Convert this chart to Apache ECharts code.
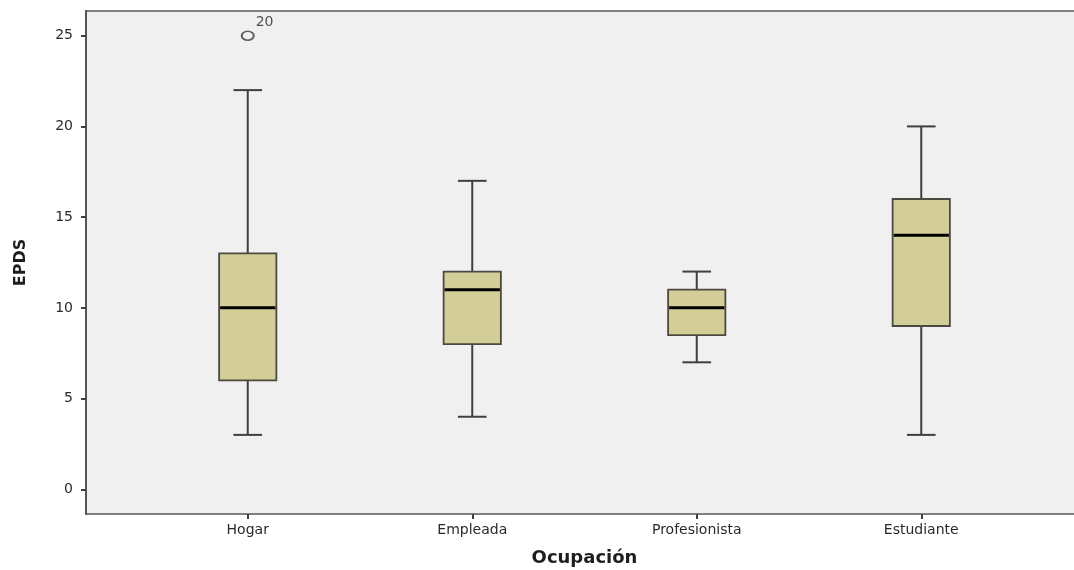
<!DOCTYPE html>
<html>
<head>
<meta charset="utf-8">
<style>
  html, body { margin: 0; padding: 0; background: #ffffff; }
  #chart { width: 1074px; height: 570px; }
</style>
<script src="https://cdn.jsdelivr.net/npm/echarts@6/dist/echarts.min.js"></script>
</head>
<body>
<div id="chart"></div>
<script>
// EPDS score by occupation: five-number summaries per group
const categories = ['Hogar', 'Empleada', 'Profesionista', 'Estudiante'];
const whiskerLow = [3, 4, 7, 3];
const q1 = [6, 8, 8.5, 9];
const median = [10, 11, 10, 14];
const q3 = [13, 12, 11, 16];
const whiskerHigh = [22, 17, 12, 20];
// outliers: [category, value, case number]
const outliers = [['Hogar', 25, '20']];
const yTicks = [0, 5, 10, 15, 20, 25];

const FONT = 'DejaVu Sans';
const INK = '#404040';

const boxData = categories.map((c, i) =>
  [i, whiskerLow[i], q1[i], median[i], q3[i], whiskerHigh[i]]);

function renderBox(params, api) {
  const idx = api.value(0);
  const cx = api.coord([idx, 0])[0];
  const band = api.size([1, 0])[0];
  const boxW = band * 0.255;
  const capW = boxW * 0.5;
  const y = v => api.coord([idx, v])[1];
  const yLow = y(api.value(1)), yQ1 = y(api.value(2)), yMed = y(api.value(3));
  const yQ3 = y(api.value(4)), yHigh = y(api.value(5));
  const wStyle = { stroke: '#3f3f3f', lineWidth: 2 };
  return {
    type: 'group',
    children: [
      { type: 'line', shape: { x1: cx, y1: yQ1, x2: cx, y2: yLow }, style: wStyle },
      { type: 'line', shape: { x1: cx, y1: yQ3, x2: cx, y2: yHigh }, style: wStyle },
      { type: 'line', shape: { x1: cx - capW / 2, y1: yLow, x2: cx + capW / 2, y2: yLow }, style: wStyle },
      { type: 'line', shape: { x1: cx - capW / 2, y1: yHigh, x2: cx + capW / 2, y2: yHigh }, style: wStyle },
      { type: 'rect', shape: { x: cx - boxW / 2, y: yQ3, width: boxW, height: yQ1 - yQ3 },
        style: { fill: '#d3ce97', stroke: '#4a4a40', lineWidth: 1.8 } },
      { type: 'line', shape: { x1: cx - boxW / 2 + 1, y1: yMed, x2: cx + boxW / 2 - 1, y2: yMed },
        style: { stroke: '#000000', lineWidth: 3 } }
    ]
  };
}

const Y_MIN = -1.36, Y_MAX = 26.36;

const chart = echarts.init(document.getElementById('chart'));
chart.setOption({
  animation: false,
  backgroundColor: '#ffffff',
  grid: [
    // plot frame spanning the full panel
    { left: 86, right: -6, top: 11, bottom: 56, show: true, outerBoundsMode: 'none',
      containLabel: false,
      backgroundColor: '#f0f0f0', borderColor: '#808080', borderWidth: 2 },
    // band area holding the four categories
    { left: 135.5, right: 40.5, top: 11, bottom: 56, outerBoundsMode: 'none',
      containLabel: false }
  ],
  xAxis: [
    { gridIndex: 0, type: 'value', show: false, min: 0, max: 1 },
    { gridIndex: 1, type: 'category', data: categories, position: 'bottom',
      axisLine: { show: false, onZero: false },
      axisTick: { show: true, alignWithLabel: true, length: 5,
                  lineStyle: { color: INK, width: 2 } },
      axisLabel: { color: '#2a2a2a', fontFamily: FONT, fontSize: 14, margin: 9 },
      name: 'Ocupación', nameLocation: 'middle', nameGap: 35,
      nameTextStyle: { color: '#1e1e1e', fontFamily: FONT, fontWeight: 'bold', fontSize: 18 },
      splitLine: { show: false } }
  ],
  yAxis: [
    { gridIndex: 0, type: 'value', min: Y_MIN, max: Y_MAX,
      axisLine: { show: true, lineStyle: { color: '#555', width: 2 } },
      axisTick: { show: true, length: 5, customValues: yTicks,
                  lineStyle: { color: INK, width: 2 } },
      axisLabel: { customValues: yTicks, color: '#2a2a2a', fontFamily: FONT, fontSize: 14, margin: 13 },
      splitLine: { show: false },
      name: 'EPDS', nameLocation: 'middle', nameRotate: 90, nameGap: 57,
      nameTextStyle: { color: '#1e1e1e', fontFamily: FONT, fontWeight: 'bold', fontSize: 16 } },
    { gridIndex: 1, type: 'value', min: Y_MIN, max: Y_MAX, show: false }
  ],
  series: [
    { type: 'custom', xAxisIndex: 1, yAxisIndex: 1, data: boxData,
      encode: { x: 0, y: [1, 5] }, renderItem: renderBox, z: 3 },
    { type: 'scatter', xAxisIndex: 1, yAxisIndex: 1,
      data: outliers.map(o => ({ value: [o[0], o[1]], caseId: o[2] })),
      symbol: 'circle', symbolSize: [12, 9], z: 4,
      itemStyle: { color: 'rgba(0,0,0,0)', borderColor: '#3a3a3a', borderWidth: 1.8 },
      label: { show: true, position: [15, -15], color: '#2a2a2a', fontFamily: FONT, fontSize: 14,
               formatter: p => p.data.caseId } }
  ]
});
</script>
</body>
</html>
